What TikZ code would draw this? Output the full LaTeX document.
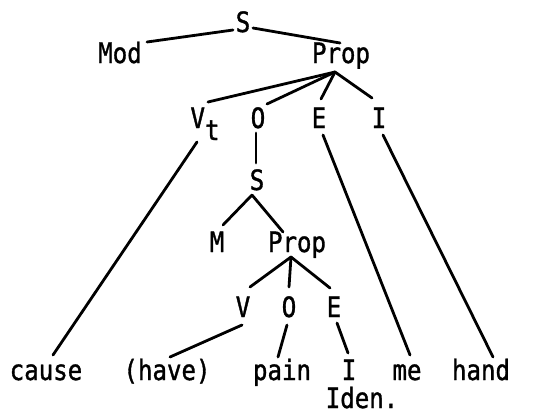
\documentclass[tikz,border=0pt]{standalone}
\usepackage{fontspec}
\newfontfamily\tw[FakeStretch=0.86,FakeBold=1.2]{DejaVu Sans Mono}
\usetikzlibrary{calc}
\begin{document}
\begin{tikzpicture}[x=1pt,y=-1pt,
  lbl/.style={anchor=base,inner sep=0pt,font=\tw\fontsize{28}{30}\selectfont},
  edge/.style={line width=2.8pt,line cap=round}]
\useasboundingbox (0,0) rectangle (551,415);
% nodes
\node[lbl] (S1) at (243,32) {S};
\node[lbl] (Mod) at (120,63) {Mod};
\node[lbl] (Prop1) at (341,63) {Prop};
\node[lbl] (Vt) at (205,128) {V\lower12pt\hbox{t}};
\node[lbl] (O1) at (258,128) {O};
\node[lbl] (E1) at (319,128) {E};
\node[lbl] (I1) at (379,128) {I};
\node[lbl] (S2) at (257,190) {S};
\node[lbl] (M) at (217,252) {M};
\node[lbl] (Prop2) at (297,252) {Prop};
\node[lbl] (V) at (243,317) {V};
\node[lbl] (O2) at (289,317) {O};
\node[lbl] (E2) at (334,317) {E};
\node[lbl] (cause) at (46,380) {cause};
\node[lbl] (have) at (167,380) {(have)};
\node[lbl] (pain) at (282,380) {pain};
\node[lbl] (Iw) at (349,380) {I};
\node[lbl] (me) at (407,380) {me};
\node[lbl] (hand) at (481,380) {hand};
\node[lbl] (Iden) at (362,408) {Iden.};
% connectors
\draw[edge] ($(S1.base)+(-10,-2)$) -- ($(Mod.base)+(27,-21)$);
\draw[edge] ($(S1.base)+(10,-4)$) -- ($(Prop1.base)+(-1,-20)$);
\draw[edge] ($(Prop1.base)+(-6,9)$) -- ($(Vt.base)+(3,-26)$);
\draw[edge] ($(Prop1.base)+(-6,9)$) -- ($(O1.base)+(9,-24)$);
\draw[edge] ($(Prop1.base)+(-6,9)$) -- ($(E1.base)+(2,-29)$);
\draw[edge] ($(Prop1.base)+(-6,9)$) -- ($(I1.base)+(-7,-30)$);
\draw[edge] ($(Vt.base)+(-8,14)$) -- ($(cause.base)+(7,-25)$);
\draw[edge] ($(O1.base)+(-2,5)$) -- ($(S2.base)+(-1,-27)$);
\draw[edge] ($(E1.base)+(4,7)$) -- ($(me.base)+(3,-25)$);
\draw[edge] ($(I1.base)+(4,7)$) -- ($(hand.base)+(12,-23)$);
\draw[edge] ($(S2.base)+(-5,5)$) -- ($(M.base)+(6,-27)$);
\draw[edge] ($(S2.base)+(-5,5)$) -- ($(Prop2.base)+(-14,-20)$);
\draw[edge] ($(Prop2.base)+(-6,5)$) -- ($(V.base)+(7,-30)$);
\draw[edge] ($(Prop2.base)+(-6,5)$) -- ($(O2.base)+(0,-30)$);
\draw[edge] ($(Prop2.base)+(-6,5)$) -- ($(E2.base)+(-4,-29)$);
\draw[edge] ($(V.base)+(-1,8)$) -- ($(have.base)+(3,-23)$);
\draw[edge] ($(O2.base)+(-2,8)$) -- ($(pain.base)+(-4,-23)$);
\draw[edge] ($(E2.base)+(3,6)$) -- ($(Iw.base)+(-1,-27)$);
\end{tikzpicture}
\end{document}
